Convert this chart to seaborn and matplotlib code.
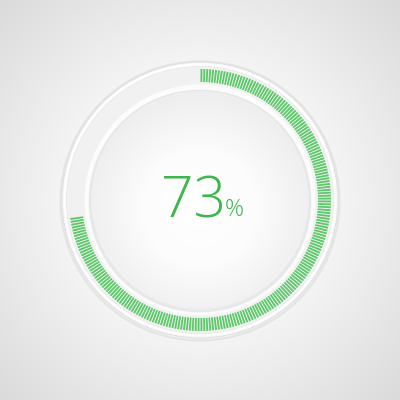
import numpy as np
import matplotlib.pyplot as plt
import matplotlib.patches as mpatches
from matplotlib.colors import LinearSegmentedColormap
import seaborn as sns

# values
percent = 73
n_ticks = 280
tick_inner = 118
tick_outer = 131
label_main = '73'
label_unit = '%'

green = '#4cc45a'
text_green = '#3fb64b'

sns.set_theme(style='white')
plt.rcParams['font.family'] = ['Open Sans', 'DejaVu Sans']

fig = plt.figure(figsize=(4, 4), dpi=100)
ax = fig.add_axes([0, 0, 1, 1])
ax.set_xlim(-200, 200)
ax.set_ylim(-200, 200)
ax.set_aspect('equal')
ax.axis('off')

# background radial gradient
yy, xx = np.mgrid[-200:200:400j, -200:200:400j]
rr = np.hypot(xx, yy)
bg_cmap = LinearSegmentedColormap.from_list('bg', ['#fdfdfd', '#f3f3f3', '#dadada'])
ax.imshow(np.clip(rr / 290, 0, 1), extent=(-200, 200, -200, 200), cmap=bg_cmap,
          vmin=0, vmax=1, zorder=0, origin='lower')

# outer plate
ax.add_patch(mpatches.Circle((0, -1), 139.5, facecolor='none', edgecolor='#e4e4e4', lw=1.5, zorder=1))
ax.add_patch(mpatches.Circle((0, 0), 138, facecolor='#f7f7f7', edgecolor='#e0e0e0', lw=0.8, zorder=2))
ax.add_patch(mpatches.Circle((0, 0), 135.5, facecolor='none', edgecolor='#ffffff', lw=1.5, zorder=3))
# track
ax.add_patch(mpatches.Circle((0, 0), 133.5, facecolor='#f1f1f1', edgecolor='#ebebeb', lw=0.6, zorder=3))
ax.add_patch(mpatches.Circle((0, 0), 115.5, facecolor='#fcfcfc', edgecolor='none', zorder=3))

# inner disk with shadow and gradient
ax.add_patch(mpatches.Circle((0, -1), 110, facecolor='none', edgecolor='#dcdcdc', lw=2, alpha=0.6, zorder=4))
disk = mpatches.Circle((0, 0), 109, facecolor='#f6f6f6', edgecolor='#e4e4e4', lw=0.7, zorder=5)
ax.add_patch(disk)
disk_cmap = LinearSegmentedColormap.from_list('disk', ['#ffffff', '#fcfcfc', '#eeeeee'])
img = ax.imshow(np.clip(np.hypot(xx, yy + 8) / 115, 0, 1), extent=(-200, 200, -200, 200),
                cmap=disk_cmap, vmin=0, vmax=1, zorder=6, origin='lower')
img.set_clip_path(disk)

# progress ticks on a polar axes laid over the same square
pax = fig.add_axes([0, 0, 1, 1], projection='polar', frameon=False)
pax.set_theta_zero_location('N')
pax.set_theta_direction(-1)
pax.grid(False)
pax.set_xticks([])
pax.set_yticks([])
pax.patch.set_alpha(0)

n_on = int(round(n_ticks * percent / 100))
step = 2 * np.pi / n_ticks
theta = np.arange(n_on) * step + step / 2
pax.bar(theta, tick_outer - tick_inner, width=step * 0.66, bottom=tick_inner,
        color=green, edgecolor='none', alpha=0.9)
pax.set_ylim(0, 200)

# label
ax.text(-7, -3, label_main, fontsize=41, color=text_green, ha='center', va='center',
        fontweight='light', zorder=10)
ax.text(34, -10, label_unit, fontsize=17, color=text_green, ha='center', va='center',
        fontweight='light', zorder=10)

fig.savefig('out.png', dpi=100)
